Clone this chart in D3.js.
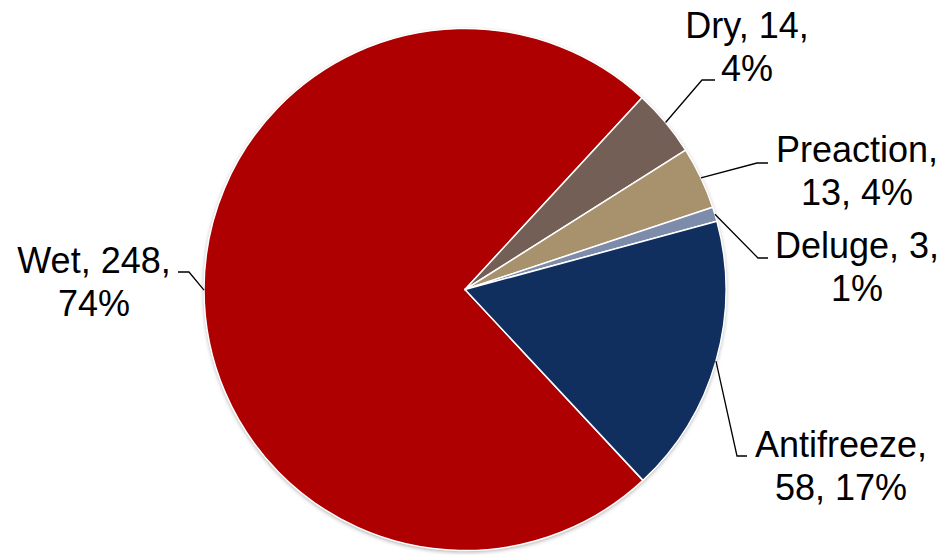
<!DOCTYPE html>
<html lang="en">
<head>
    <meta charset="UTF-8" />
    <title>Sprinkler system types</title>
    <style>
        body { margin: 0; background: #fff; }
        svg { display: block; }
        text { font-family: "Liberation Sans", Arial, sans-serif; font-size: 36px; fill: #000; }
    </style>
</head>
<body>
    <svg></svg>
    <script src="https://d3js.org/d3.v7.min.js"></script>
    <script>
        // data
        const categories = ["Wet", "Dry", "Preaction", "Deluge", "Antifreeze"];
        const counts = [248, 14, 13, 3, 58];
        const percentLabels = ["74%", "4%", "4%", "1%", "17%"];
        const colors = ["#ae0000", "#735f55", "#a8926e", "#7d8caa", "#112f5e"];

        const width = 943, height = 555;
        const cx = 465, cy = 289.5, radius = 261;
        const firstSliceAngle = 137; // degrees, like Excel's rotation setting
        const lineHeight = 43;

        // label layout: text centre, first baseline, leader elbow and end
        const labelLayout = [
            { x: 94, y: 273, lines: d => [`${d.cat}, ${d.count},`, d.pct], elbow: [189, 272], end: [178, 272] },
            { x: 747, y: 38, lines: d => [`${d.cat}, ${d.count},`, d.pct], elbow: [702, 80], end: [715, 80] },
            { x: 857, y: 162, lines: d => [`${d.cat},`, `${d.count}, ${d.pct}`], elbow: [757, 163], end: [768, 163] },
            { x: 857, y: 258, lines: d => [`${d.cat}, ${d.count},`, d.pct], elbow: [758, 258], end: [768, 258] },
            { x: 841, y: 457, lines: d => [`${d.cat},`, `${d.count}, ${d.pct}`], elbow: [737, 456], end: [747, 456] }
        ];

        const data = categories.map((cat, i) => ({ cat, count: counts[i], pct: percentLabels[i], color: colors[i], layout: labelLayout[i] }));

        const svg = d3.select("svg").attr("width", width).attr("height", height);

        const defs = svg.append("defs");
        const shadow = defs.append("filter").attr("id", "shadow")
            .attr("x", "-10%").attr("y", "-10%").attr("width", "120%").attr("height", "120%");
        shadow.append("feDropShadow")
            .attr("dx", 0).attr("dy", 1.5).attr("stdDeviation", 2)
            .attr("flood-color", "#000").attr("flood-opacity", 0.35);

        const start = firstSliceAngle * Math.PI / 180;
        const pie = d3.pie().sort(null).value(d => d.count)
            .startAngle(start).endAngle(start + 2 * Math.PI);
        const arcs = pie(data);

        const arc = d3.arc().innerRadius(0).outerRadius(radius);

        const g = svg.append("g").attr("transform", `translate(${cx},${cy})`);

        g.append("circle").attr("r", radius).attr("fill", "#fff").attr("filter", "url(#shadow)");

        g.selectAll("path.slice")
            .data(arcs)
            .enter()
            .append("path")
            .attr("class", "slice")
            .attr("d", arc)
            .attr("fill", d => d.data.color)
            .attr("stroke", "#fff")
            .attr("stroke-width", 1.5)
            .attr("stroke-linejoin", "round");

        // leader lines start on the rim at each slice's middle angle
        const rimPoint = d => {
            const a = (d.startAngle + d.endAngle) / 2;
            return [cx + radius * Math.sin(a), cy - radius * Math.cos(a)];
        };

        svg.selectAll("path.leader")
            .data(arcs)
            .enter()
            .append("path")
            .attr("class", "leader")
            .attr("d", d => d3.line()([rimPoint(d), d.data.layout.elbow, d.data.layout.end]))
            .attr("fill", "none")
            .attr("stroke", "#000")
            .attr("stroke-width", 1.3);

        const labels = svg.selectAll("text.label")
            .data(arcs)
            .enter()
            .append("text")
            .attr("class", "label")
            .attr("text-anchor", "middle");

        labels.each(function (d) {
            const lay = d.data.layout;
            d3.select(this).selectAll("tspan")
                .data(lay.lines(d.data))
                .enter()
                .append("tspan")
                .attr("x", lay.x)
                .attr("y", (t, i) => lay.y + i * lineHeight)
                .text(t => t);
        });
    </script>
</body>
</html>
